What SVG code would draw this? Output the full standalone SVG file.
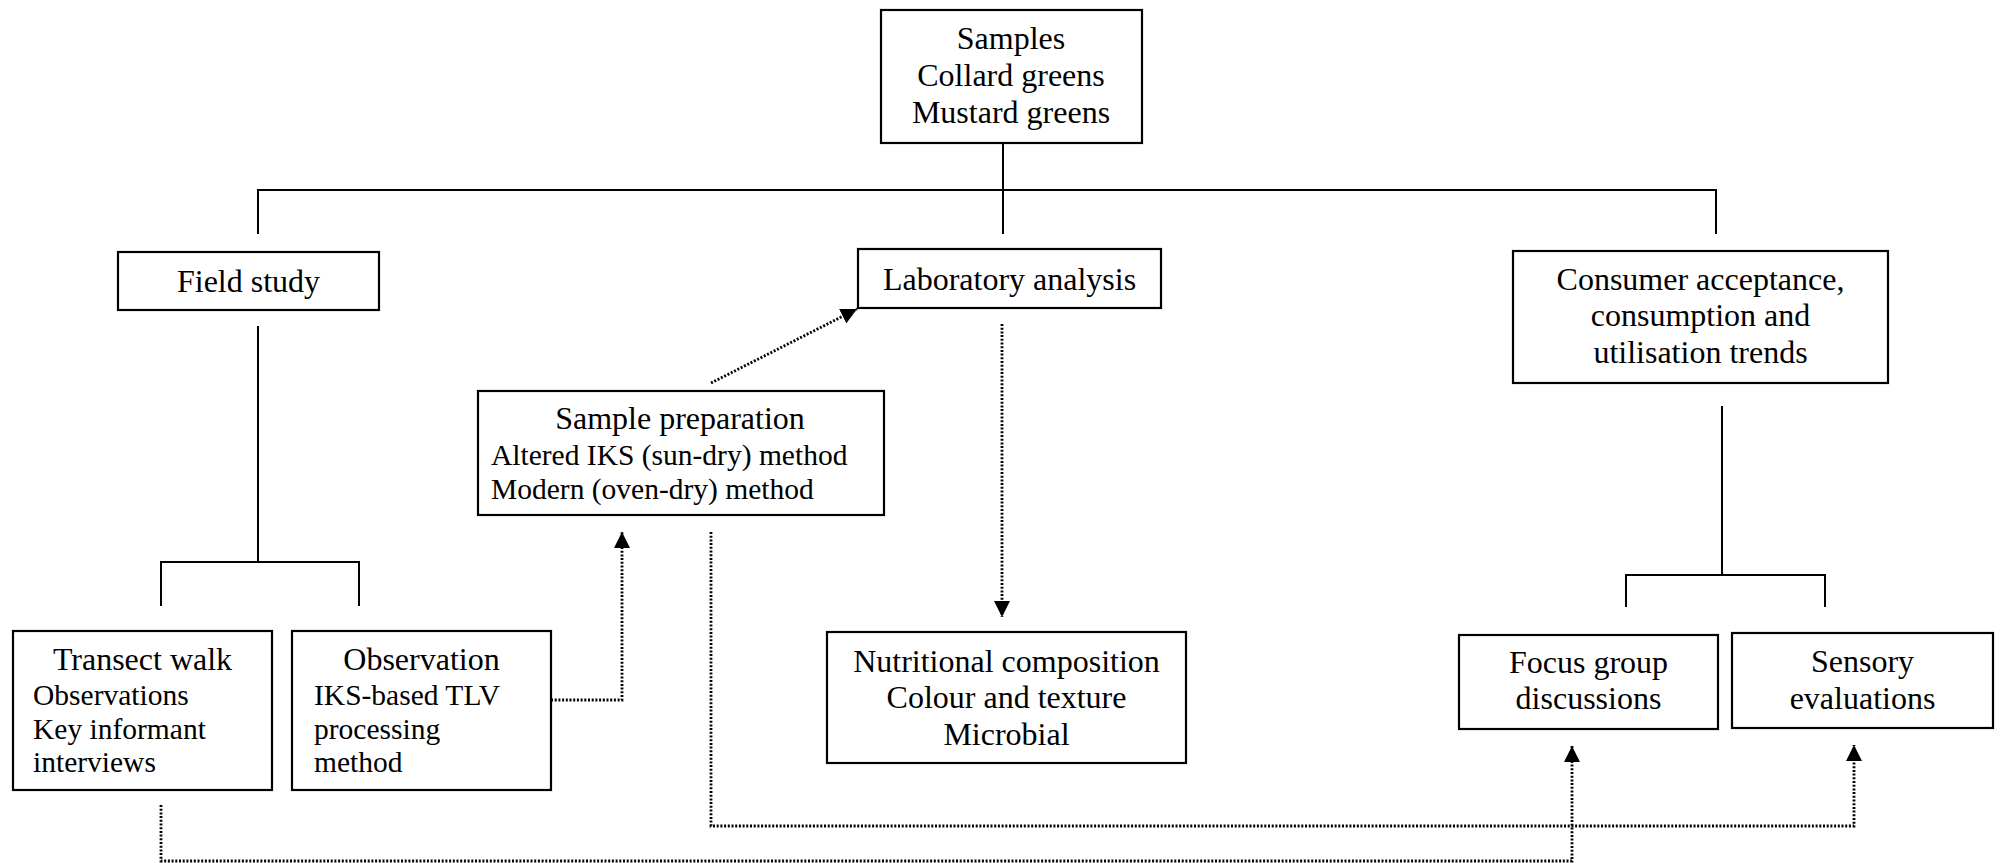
<svg xmlns="http://www.w3.org/2000/svg" width="2001" height="863" viewBox="0 0 2001 863">
<style>
.box{fill:#fff;stroke:#000;stroke-width:2.2}
.t{font-family:"Liberation Serif","Times New Roman",serif;font-size:32px;fill:#000}
.s{font-family:"Liberation Serif","Times New Roman",serif;font-size:29.5px;fill:#000}
.c{text-anchor:middle}
.ln{fill:none;stroke:#000;stroke-width:2}
.dt{fill:none;stroke:#000;stroke-width:2.8;stroke-dasharray:2 1.7}
</style>
<defs>
<marker id="ah" viewBox="0 0 16 16" refX="16" refY="8" markerWidth="16" markerHeight="16" markerUnits="userSpaceOnUse" orient="auto">
<path d="M0,0 L16,8 L0,16 z" fill="#000"/>
</marker>
</defs>
<g id="connectors">
<path class="ln" d="M1003,143 V234"/>
<path class="ln" d="M258,234 V190 H1716 V234"/>
<path class="ln" d="M258,326 V562"/>
<path class="ln" d="M161,606 V562 H359 V606"/>
<path class="ln" d="M1722,406 V575"/>
<path class="ln" d="M1626,607 V575 H1825 V607"/>
<path class="dt" d="M711,383 L857,309" marker-end="url(#ah)"/>
<path class="dt" d="M1002,324 V617" marker-end="url(#ah)"/>
<path class="dt" d="M551,700 H622 V532" marker-end="url(#ah)"/>
<path class="dt" d="M711,532 V826 H1854 V745" marker-end="url(#ah)"/>
<path class="dt" d="M161,805 V861 H1572 V746" marker-end="url(#ah)"/>
</g>
<g id="samples">
<rect class="box" x="881" y="10" width="261" height="133"/>
<text class="t c" x="1011" y="49">Samples</text>
<text class="t c" x="1011" y="86">Collard greens</text>
<text class="t c" x="1011" y="123">Mustard greens</text>
</g>
<g id="field-study">
<rect class="box" x="118" y="252" width="261" height="58"/>
<text class="t c" x="248.5" y="292">Field study</text>
</g>
<g id="laboratory-analysis">
<rect class="box" x="858" y="249" width="303" height="59"/>
<text class="t c" x="1009.5" y="290">Laboratory analysis</text>
</g>
<g id="consumer">
<rect class="box" x="1513" y="251" width="375" height="132"/>
<text class="t c" x="1700.5" y="290">Consumer acceptance,</text>
<text class="t c" x="1700.5" y="326">consumption and</text>
<text class="t c" x="1700.5" y="363">utilisation trends</text>
</g>
<g id="sample-preparation">
<rect class="box" x="478" y="391" width="406" height="124"/>
<text class="t c" x="680" y="429">Sample preparation</text>
<text class="s" x="491" y="465">Altered IKS (sun-dry) method</text>
<text class="s" x="491" y="499">Modern (oven-dry) method</text>
</g>
<g id="transect-walk">
<rect class="box" x="13" y="631" width="259" height="159"/>
<text class="t c" x="142.5" y="670">Transect walk</text>
<text class="s" x="33" y="705">Observations</text>
<text class="s" x="33" y="739">Key informant</text>
<text class="s" x="33" y="772">interviews</text>
</g>
<g id="observation">
<rect class="box" x="292" y="631" width="259" height="159"/>
<text class="t c" x="421.5" y="670">Observation</text>
<text class="s" x="314" y="705">IKS-based TLV</text>
<text class="s" x="314" y="739">processing</text>
<text class="s" x="314" y="772">method</text>
</g>
<g id="nutritional">
<rect class="box" x="827" y="632" width="359" height="131"/>
<text class="t c" x="1006.5" y="672">Nutritional composition</text>
<text class="t c" x="1006.5" y="708">Colour and texture</text>
<text class="t c" x="1006.5" y="745">Microbial</text>
</g>
<g id="focus-group">
<rect class="box" x="1459" y="635" width="259" height="94"/>
<text class="t c" x="1588.5" y="673">Focus group</text>
<text class="t c" x="1588.5" y="709">discussions</text>
</g>
<g id="sensory">
<rect class="box" x="1732" y="633" width="261" height="95"/>
<text class="t c" x="1862.5" y="672">Sensory</text>
<text class="t c" x="1862.5" y="709">evaluations</text>
</g>
</svg>
